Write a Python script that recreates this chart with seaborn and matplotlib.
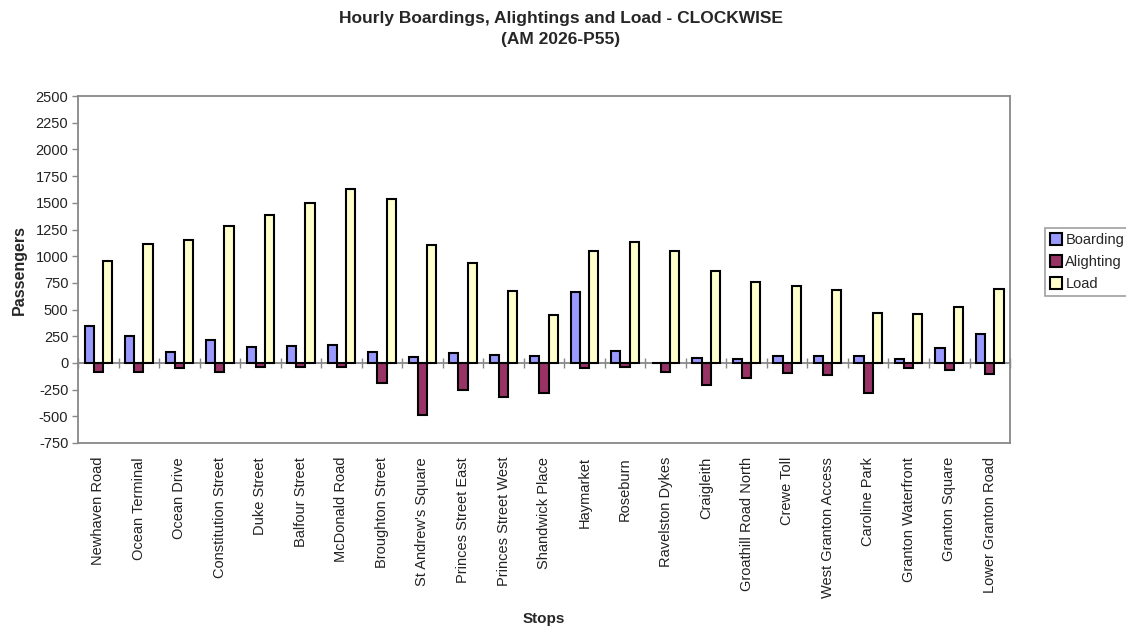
import matplotlib
matplotlib.use("Agg")
import matplotlib.pyplot as plt
import numpy as np
import pandas as pd
import seaborn as sns

# Stop names along the clockwise route
stops = [
    "Newhaven Road", "Ocean Terminal", "Ocean Drive", "Constitution Street",
    "Duke Street", "Balfour Street", "McDonald Road", "Broughton Street",
    "St Andrew's Square", "Princes Street East", "Princes Street West",
    "Shandwick Place", "Haymarket", "Roseburn", "Ravelston Dykes", "Craigleith",
    "Groathill Road North", "Crewe Toll", "West Granton Access", "Caroline Park",
    "Granton Waterfront", "Granton Square", "Lower Granton Road",
]

# Hourly passengers per stop (AM peak)
boarding = [345, 255, 99, 211, 152, 158, 171, 99, 59, 93, 71, 68,
            661, 115, 0, 44, 37, 68, 66, 66, 38, 143, 273]
alighting = [-81, -84, -50, -81, -34, -40, -34, -186, -485, -258, -320, -282,
             -50, -34, -87, -211, -140, -93, -112, -282, -50, -65, -106]
load = [953, 1115, 1152, 1283, 1388, 1500, 1628, 1537, 1102, 934, 677, 450,
        1053, 1130, 1046, 864, 757, 720, 680, 469, 460, 525, 690]

series_names = ["Boarding", "Alighting", "Load"]
series_colors = ["#9999FF", "#993366", "#FFFFCC"]
y_ticks = list(range(-750, 2501, 250))

df = pd.DataFrame({
    "Stop": stops * 3,
    "Passengers": boarding + alighting + load,
    "Series": [s for s in series_names for _ in stops],
})

sns.set_theme(style="white")
plt.rcParams["font.family"] = ["Liberation Sans", "DejaVu Sans"]

fig = plt.figure(figsize=(11.26, 6.28), dpi=100)
ax = fig.add_axes([0.0693, 0.2946, 0.8277, 0.5524])

sns.barplot(
    data=df, x="Stop", y="Passengers", hue="Series", order=stops,
    hue_order=series_names, palette=series_colors, saturation=1,
    width=0.68, edgecolor="black", linewidth=1.5, ax=ax, legend=True,
)

grey = "#888888"
ax.set_ylim(-750, 2500)
ax.set_xlim(-0.5, len(stops) - 0.5)
ax.set_yticks(y_ticks)
ax.set_yticklabels([str(v) for v in y_ticks], fontsize=10.5, color="#222222")
ax.tick_params(axis="y", left=True, length=4, width=1, color=grey, pad=3)
ax.tick_params(axis="x", bottom=False, pad=4)
ax.set_xticks(range(len(stops)))
ax.set_xticklabels(stops, rotation=90, fontsize=10.5, color="#222222")
for sp in ax.spines.values():
    sp.set_color(grey)
    sp.set_linewidth(1.3)

# Category axis drawn through zero with boundary ticks
zero_frac = (0 - ax.get_ylim()[0]) / (ax.get_ylim()[1] - ax.get_ylim()[0])
cat_axis = ax.secondary_xaxis(zero_frac)
cat_axis.set_xticks(np.arange(len(stops) + 1) - 0.5)
cat_axis.tick_params(axis="x", direction="inout", length=7, width=1,
                     color=grey, labelbottom=False, labeltop=False)
cat_axis.spines["bottom"].set_color(grey)
cat_axis.spines["bottom"].set_linewidth(1.3)
cat_axis.spines["top"].set_color(grey)
cat_axis.spines["top"].set_linewidth(1.3)

ax.set_xlabel("Stops", fontsize=11, fontweight="bold", labelpad=10)
ax.set_ylabel("Passengers", fontsize=11.5, fontweight="bold", labelpad=6)

fig.suptitle("Hourly Boardings, Alightings and Load - CLOCKWISE\n(AM 2026-P55)",
             fontsize=12.5, fontweight="bold", y=0.983, x=0.498, linespacing=1.55)

handles, labels = ax.get_legend_handles_labels()
ax.legend_.remove()
leg = fig.legend(
    handles, labels, loc="upper left", bbox_to_anchor=(0.928, 0.637),
    bbox_transform=fig.transFigure, fontsize=10.5, frameon=True,
    fancybox=False, handlelength=0.8, handleheight=0.8,
    handletextpad=0.25, borderpad=0.35, labelspacing=0.55, borderaxespad=0,
)
leg.get_frame().set_edgecolor(grey)
leg.get_frame().set_linewidth(1.2)

fig.savefig("out.png", dpi=100, facecolor="white")
